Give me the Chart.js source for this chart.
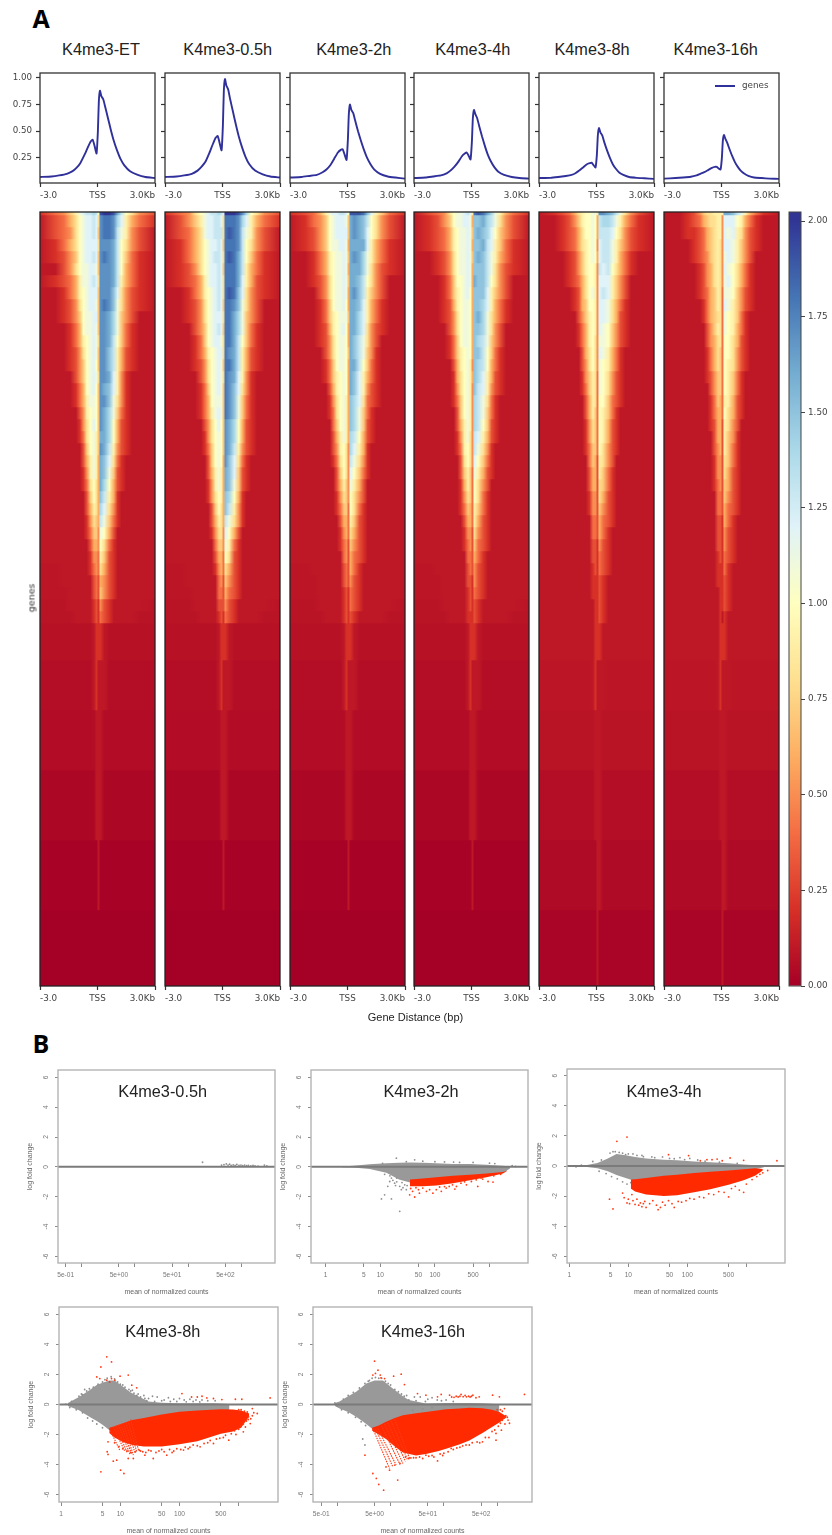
<!DOCTYPE html>
<html>
<head>
<meta charset="utf-8">
<title>K4me3 heatmaps and MA plots</title>
<script src="https://cdn.jsdelivr.net/npm/chart.js@4"></script>
<style>
    html, body { margin: 0; background: #fff; }
    #page { position: relative; width: 832px; height: 1535px; overflow: hidden; }
    canvas { position: absolute; filter: blur(0.5px); }
    .txt { position: absolute; font-family: "Liberation Sans", sans-serif; color: #222; white-space: nowrap; transform: translate(-50%, -50%); }
    .letter { font-family: "Open Sans", sans-serif; font-weight: 700; font-size: 25px; color: #000; }
</style>
</head>
<body>
<div id="page"></div>
<script>
// ---- top panels: signal profile around the TSS ----
const panelNames = ['K4me3-ET', 'K4me3-0.5h', 'K4me3-2h', 'K4me3-4h', 'K4me3-8h', 'K4me3-16h'];
const profileX = [-3, -2.4, -2, -1.6, -1.3, -1.1, -0.9, -0.7, -0.5, -0.35, -0.25, -0.15, -0.05, 0.02, 0.07, 0.13, 0.2, 0.3, 0.4, 0.55, 0.7, 0.85, 1, 1.2, 1.4, 1.7, 2.1, 2.5, 3];
const profileET = [.07, .075, .085, .1, .125, .155, .2, .27, .35, .405, .42, .36, .29, .5, .78, .88, .83, .8, .73, .62, .51, .41, .33, .24, .18, .125, .09, .07, .06];
const profile05 = [.07, .075, .085, .1, .13, .165, .21, .29, .38, .44, .455, .39, .32, .55, .88, .99, .93, .89, .8, .68, .56, .45, .36, .26, .19, .13, .095, .075, .065];
const profile2 = [.065, .07, .08, .09, .115, .14, .18, .24, .3, .325, .33, .28, .23, .42, .66, .75, .7, .67, .6, .5, .41, .33, .26, .19, .14, .1, .075, .065, .055];
const profile4 = [.06, .065, .075, .085, .105, .13, .165, .21, .265, .29, .3, .27, .235, .4, .62, .7, .66, .62, .55, .45, .36, .28, .22, .16, .12, .09, .07, .06, .055];
const profile8 = [.06, .062, .07, .08, .09, .105, .13, .16, .19, .2, .205, .18, .16, .28, .46, .53, .49, .46, .4, .32, .25, .19, .15, .11, .09, .07, .062, .058, .052];
const profile16 = [.055, .06, .065, .072, .085, .1, .115, .135, .155, .165, .165, .15, .14, .25, .41, .465, .43, .39, .34, .27, .21, .165, .13, .1, .08, .065, .06, .055, .052];
const profileYTicks = [0.25, 0.5, 0.75, 1];
const distTicks = [-3, 0, 3];
const distLabels = ['-3.0', 'TSS', '3.0Kb'];

// ---- heatmaps: one string per row of genes, one character per position in heatPos ----
// each character is the signal in tenths (1-9, a=1.0 ... k=2.0), 0 means the row's background level in the floor array
const heatPos = [-3, -2.2, -1.75, -1.42, -1.12, -0.92, -0.74, -0.56, -0.37, -0.18, -0.05, 0.05, 0.15, 0.35, 0.62, 0.85, 1.05, 1.25, 1.5, 1.8, 2.2, 3];
const heatRowEdges = [0, 3, 15, 27, 39, 51, 63, 75, 87, 99, 111, 123, 135, 147, 159, 171, 183, 195, 207, 219, 231, 243, 255, 267, 279, 291, 303, 315, 327, 339, 351, 363, 375, 387, 399, 411, 448, 498, 558, 628, 698, 774];
const heatFloorEarly = [.1, .1, .1, .1, .1, .1, .1, .1, .1, .1, .1, .1, .1, .1, .1, .1, .1, .1, .1, .1, .1, .1, .1, .1, .1, .1, .1, .1, .1, .1, .09, .09, .09, .08, .08, .07, .06, .05, .03, .01, 0];
const heatFloorLate = [.1, .1, .1, .1, .1, .1, .1, .1, .1, .1, .1, .1, .1, .1, .1, .1, .1, .1, .1, .1, .1, .1, .1, .1, .1, .1, .1, .1, .1, .1, .1, .1, .1, .1, .1, .1, .09, .08, .06, .04, .02];
const heatET = [
    '24579bcddedajkkjgda853', '13468abccdc8hiihec9642', '13458abccdc7hiihdb9531', '12468abcccc8hhhgda8531', '12357abccdc7hihgda7421', '11358abbccb7hhhgda6421',
    '123469bbcdc8hhhgd96421', '112469abccc7hhhfc85321', '112358abccb7hihfb85321', '112357abbcc7hhgeb75311', '111246abbcb7hhgeb74211', '1112469abcb8hhgda74211',
    '1112358abcb7hhfd963211', '1112357abca7hhfd963211', '1111357abcb8hhgc952111', '1111246abca7hgfc952111', '11112469bba7hhfb852111', '11111359aba7hgeb742111',
    '11111258aca7hgea632111', '11111248ab97ggea632111', '11111137ab97hgd9532111', '111111369b96gfc8421111', '111111259b96gfb7321111', '111111248a86gea6321111',
    '111111137a86fd96211111', '111111136986ec85211111', '111111125876db74211111', '111111124775ba63111111', '011111113665a842111111', '0111111125549732111111',
    '0011111124548632111111', '0011111113436532111111', '0001111113437532111111', '0001111112325321111110', '0000111112324321111100',
    '0000000001222100000000', '0000000001211100000000', '0000000000111000000000', '0000000000111000000000', '0000000000010000000000', '0000000000000000000000'
];
const heat05 = [
    '2458abcddedckkkjhea853', '13579bccddc8iiihec9642', '13468bccddd8ijihdb9531', '12468abccdc7iiihda8531', '12468abcddc8ijigda7421', '12358abccdc7iiigd96421',
    '123469bccdc8iiigc96321', '112469abcdc8ijifc85321', '112358abcdc7iihfb85311', '112358abccc8iigeb75311', '111357abcdc7iigeb74211', '111247abccb8iigda74211',
    '1112469abcc8ihgd963211', '1112358abcb7iigd963211', '1111358abcb8ihgc952111', '1111247abcb7ihfc852111', '1111246abbb7ihfb742111', '11112469bcb7ihfb742111',
    '11111358aca7hgea632111', '11111258aba7hgea632111', '11111247aba7hgd9532111', '11111137aba6hfc8421111', '111111369b96gfc7321111', '111111259b96gfb7321111',
    '111111258a96fea6211111', '111111137a86fd95211111', '111111136986db85211111', '111111125885ca63111111', '011111114775b942111111', '011111113664a832111111',
    '0011111125648632111111', '0011111114537532111111', '0001111114436432111111', '0001111113335321111110', '0000111112324321111100',
    '0000000001222100000000', '0000000001211100000000', '0000000000111000000000', '0000000000111000000000', '0000000000010000000000', '0000000000000000000000'
];
const heat2 = [
    '23469bccddcajjjifc9742', '12457abcccb7ghgfda8531', '12357abcccc7ghgfca8531', '12357abbccb6ggggc96421', '112469abbcb7ghgeb96421', '112469abbcb6gggeb85321',
    '112358abbcb7ggfda85311', '111358abbcb6ghfd975311', '111247abbca6ggfc964211', '1112479abbb7ggec964211', '1112369abca6ggec853211', '1112358abba6gfdb853111',
    '1111358abba7gfdb752111', '1111247abba6ggda742111', '11112479aba6gfc9642111', '11111369aba6gfc9532111', '11111258ab96fec8432111', '11111248ab96feb7421111',
    '11111147ab96feb7321111', '111111369b96eda6321111', '111111359a85ec96211111', '111111248a85db85211111', '111111137a85ca74211111', '111111136975b963111111',
    '111111125875a853111111', '111111124774a842111111', '1111111136649732111111', '0111111125648632111111', '0111111124537532111111', '0011111114536432111111',
    '0011111113436421111111', '0001111113435321111111', '0001111112324321111111', '0001111112324321111110', '0000111112323211111100',
    '0000000001222100000000', '0000000001211100000000', '0000000000111000000000', '0000000000111000000000', '0000000000010000000000', '0000000000000000000000'
];
const heat4 = [
    '13458abbcdc9ijigeb9642', '12357abbccb6ffgedb8531', '123469abbcb7fgfeca7531', '123469abbcb6ffgdc97421', '112358abbcb7fgfdb96421', '112358abbcb6fffdb85321',
    '111247aabcb6gffda85311', '1112479abca6fffc975311', '1112369abba6ffec964211', '1112358abba6fgeb864211', '1111358abba6ffeb853111', '1111247abba6fedb753111',
    '11112479aba6ffda742111', '11111369ab95feda642111', '11111268ab96fec9632111', '11111258ab95fdc9532111', '11111247ab95edb8421111', '11111137ab95edb7421111',
    '111111369b95eda7321111', '111111259b85dc96321111', '111111249a85db85211111', '111111138a85ca74211111', '111111137974b963211111', '111111126974a853111111',
    '111111125874a842111111', '1111111247649742111111', '1111111136649632111111', '0111111125538532111111', '0111111124537432111111', '0011111114436421111111',
    '0011111113435321111111', '0001111113325321111111', '0001111112324321111111', '0001111112323211111110', '0000111112223211111100',
    '0000000001222100000000', '0000000001211100000000', '0000000000111000000000', '0000000000111000000000', '0000000000010000000000', '0000000000000000000000'
];
const heat8 = [
    '1234689aabb9hhgfdb8531', '1123579aaba6deedb96421', '1123468aaba6dddca85321', '11234689aba5cddb975321', '11123579aba6cddb964211', '11123579aa95dcda864211',
    '11123468aa95ccc9753111', '11112368ab95cdc9753111', '11112367aa95ccb8642111', '111113579a95ccb8632111', '111112469a95cba7532111', '111112469a85bba7532111',
    '111111368a85cb96421111', '111111358a85ba96421111', '111111257984ba85321111', '111111247984ba85321111', '111111136984aa74321111', '111111136974a974211111',
    '111111125874a963211111', '111111125874a963211111', '111111124774a853211111', '1111111147639853111111', '1111111136639742111111', '1111111136638742111111',
    '1111111125538632111111', '1111111125537532111111', '1111111114436432111111', '1111111114436421111111', '0111111113325321111111', '0111111113324321111111',
    '0111111112324321111111', '0011111112223211111111', '0011111112223211111111', '0001111111223211111111', '0001111111223211111110',
    '0000000001222100000000', '0000000001211100000000', '0000000000111000000000', '0000000000111000000000', '0000000000011000000000', '0000000000010000000000'
];
const heat16 = [
    '112357889999ggfdc96421', '112346788995ccca964211', '112234678995cbc9853211', '111234678985ccb9753211', '111234578985bcb9753111', '111123568985cba8642111',
    '111123568985bca8642111', '111123467984bba7532111', '111112467984cb97532111', '111112467884ba97421111', '111111357984ba96421111', '111111356884aa86321111',
    '111111246874aa85321111', '111111246874a985321111', '111111235774a974211111', '111111135774a974211111', '1111111247649963211111', '111111124664a863211111',
    '1111111236639853111111', '1111111136639752111111', '1111111135639742111111', '1111111125538742111111', '1111111125538632111111', '1111111124537632111111',
    '1111111114437532111111', '1111111114436432111111', '1111111113326421111111', '1111111113325321111111', '1111111113325321111111', '0111111112324321111111',
    '0111111112224211111111', '0011111112223211111111', '0011111111223211111111', '0001111111223211111111', '0001111111212111111110',
    '0000000001222100000000', '0000000001211100000000', '0000000000111000000000', '0000000000111000000000', '0000000000011000000000', '0000000000010000000000'
];
const heatmapRows = [heatET, heat05, heat2, heat4, heat8, heat16];
const heatFloors = [heatFloorEarly, heatFloorEarly, heatFloorEarly, heatFloorEarly, heatFloorLate, heatFloorLate];
const profiles = [profileET, profile05, profile2, profile4, profile8, profile16];

// colour bar
const cmapColors = ['#a50026', '#d73027', '#f46d43', '#fdae61', '#fee090', '#ffffbf', '#e0f3f8', '#abd9e9', '#74add1', '#4575b4', '#313695'];
const cbarTicks = [0, 0.25, 0.5, 0.75, 1, 1.25, 1.5, 1.75, 2];

// ---- MA plots ----
const foldTicks = [-6, -4, -2, 0, 2, 4, 6];
const countTicksSci = [0.5, 1, 5, 10, 50, 100, 500, 1000];
const countLabelsSci = ['5e-01', '', '5e+00', '', '5e+01', '', '5e+02', ''];
const countTicksPlain = [1, 5, 10, 50, 100, 500, 1000];
const countLabelsPlain = ['1', '5', '10', '50', '100', '500', ''];

const grey05 = [[186, .31], [423, .12], [470, .15], [520, .2], [561, .12], [600, .18], [640, .1], [700, .13], [760, .1], [820, .16], [900, .1], [980, .12], [1060, .09], [1150, .12], [1250, .08], [1350, .1], [1500, .07], [1650, .1], [1800, .06], [2050, .05], [2700, .12], [3000, .06]];

const grey2X = [2, 3.2, 6.4, 12.9, 22, 35, 60, 106, 214, 437, 880, 1760, 2400];
const grey2Top = [.02, .08, .18, .25, .27, .3, .27, .25, .2, .2, .15, .07, .02];
const grey2Bottom = [-.02, -.05, -.15, -.4, -.85, -1.05, -.9, -.8, -.7, -.62, -.55, -.42, -.1];
const red2X = [35, 60, 106, 214, 437, 880, 1760, 2100];
const red2Top = [-.85, -.78, -.69, -.6, -.53, -.45, -.35, -.25];
const red2Bottom = [-1.3, -1.3, -1.25, -1.1, -.9, -.7, -.45, -.28];
const grey2Pts = [[10.5, -2.15], [16, -2.15], [12, -1.87], [22.7, -2.98], [19.7, .58], [14.9, -.98], [18.3, -1.09], [13.7, -1.3], [24.3, -1.53], [28, -1.2], [20, -.75], [16, -.75], [22.7, -1.3], [30, -1.53], [42.6, .47], [11, .24], [100, .35], [283, .3], [1000, .25], [1250, .22], [60, .38], [150, .33], [220, .32], [500, .3], [30, .35], [2600, .08], [3000, .03], [17, -.9], [20, -1], [25, -1.05], [31, -1.25], [26, -1.4], [19, -1.25], [15, -.6], [12, -.5]];
const red2Pts = [[34.5, -1.87], [42.6, -2.02], [52, -1.76], [39, -1.64], [70, -1.64], [92, -1.76], [106, -1.53], [131, -1.64], [161, -1.42], [232, -1.49], [248, -1.31], [378, -1.2], [610, -1.31], [940, -.98], [1160, -1.02], [750, -.82], [50, -1.53], [60, -1.42], [80, -1.53], [122, -1.35], [183, -1.31], [300, -1.09], [466, -.98], [570, -.87], [45, -1.4], [36, -1.45], [150, -1.32], [210, -1.2], [350, -1], [700, -.75], [1200, -.6], [1600, -.5]];

const grey4X = [1.3, 2, 3, 4.5, 6.3, 9, 13, 20, 40, 67, 130, 245, 500, 900, 1400, 2000];
const grey4Top = [.03, .07, .2, .5, .8, .72, .6, .5, .42, .38, .3, .25, .18, .1, .05, .02];
const grey4Bottom = [-.03, -.06, -.15, -.35, -.6, -.8, -1, -.95, -.8, -.72, -.6, -.5, -.42, -.32, -.22, -.08];
const red4X = [11, 13, 20, 40, 67, 130, 245, 500, 900, 1400, 1900];
const red4Top = [-.9, -.88, -.8, -.65, -.58, -.47, -.38, -.3, -.22, -.15, -.2];
const red4Bottom = [-1.5, -1.7, -1.9, -2, -1.95, -1.75, -1.55, -1.25, -.95, -.65, -.3];
const grey4Pts = [[4.9, .86], [5.5, .95], [7, .9], [9, .75], [12, .8], [17, .7], [25, .6], [38, .6], [50, .5], [75, .55], [110, .5], [150, .4], [3.5, .4], [2.5, .3], [1.6, .05], [1.3, -.05], [3.2, -.35], [4.2, -.5], [5.2, -.7], [6.5, -.85], [8, -1.05], [9.5, -1.2], [11, -1.1], [6, .95], [8, .85], [10, .8], [14, .7], [18, .62], [28, .55], [60, .48], [90, .42], [200, .32], [350, .25], [700, .18]];
const red4Pts = [[5.5, -2.85], [4.8, -2.2], [9.5, 1.92], [6.4, 1.64], [8, -1.8], [8.5, -2.1], [9.5, -2.45], [10, -2.2], [10.5, -2.5], [11.5, -1.9], [12, -2.3], [13, -2.55], [14, -2.2], [15, -2.6], [16, -2.45], [17, -2.7], [18, -2.5], [19, -2.35], [20, -2.75], [23, -2.5], [26, -2.3], [30, -2.6], [32, -2.9], [35, -2.75], [38, -2.4], [42, -2.6], [48, -2.3], [55, -2.5], [60, -2.75], [70, -2.35], [80, -2.4], [95, -2.3], [110, -2.15], [130, -2.2], [160, -2.05], [190, -2.1], [230, -1.85], [280, -1.9], [340, -1.7], [420, -1.75], [500, -2.05], [560, -1.5], [650, -1.35], [760, -1.6], [900, -1.75], [1000, -1.2], [1250, -.9], [1500, -.7], [1700, -.55], [1900, -.45], [2300, -.3], [48, .75], [105, .69], [166, .35], [215, .42], [262, .42], [320, .46], [390, .35], [530, .53], [900, .38], [3300, .35]];

const grey8X = [1.3, 2, 3, 4, 5, 6.5, 8, 11, 15, 20, 30, 50, 100, 200, 400, 700];
const grey8Top = [.1, .5, .95, 1.3, 1.45, 1.6, 1.6, 1.2, .8, .55, .2, .12, .08, .08, .08, .03];
const grey8Bottom = [-.1, -.38, -.82, -1.1, -1.35, -1.7, -1.6, -1.4, -1.2, -1.1, -1, -.85, -.65, -.55, -.45, -.45];
const red8X = [6.5, 8, 11, 16, 25, 50, 100, 200, 500, 800, 1100, 1500];
const red8Top = [-1.55, -1.45, -1.25, -1.04, -.9, -.67, -.49, -.4, -.31, -.33, -.4, -.6];
const red8Bottom = [-1.9, -2.2, -2.5, -2.7, -2.8, -2.8, -2.65, -2.45, -1.95, -1.8, -1.55, -.8];
const grey8Pts = [[1.2, .02], [1.4, -.2], [2, .55], [2.2, .7], [2.5, 1], [3, 1.05], [30, .4], [35, .55], [42, .5], [55, .3], [65, .45], [80, .35], [100, .4], [120, .3], [150, .35], [190, .3], [240, .3], [300, .25], [400, .25], [25, .6], [20, .7], [15, .9], [1.5, .2], [1.8, -.35], [2.3, -.55], [2.8, -.9], [3.4, -1.1], [4, -1.3], [5, -1.55], [28, .25], [38, .2], [50, .25], [70, .2], [90, .2], [130, .18], [170, .2], [220, .17], [6, 1.75], [7, 1.85], [8, 1.7], [9, 1.5], [10, 1.35], [12, 1.15], [14, 1], [17, .75], [19, .6], [22, .5], [26, .4], [3.5, 1.15], [4.2, 1.35], [5, 1.5], [5.5, 1.65], [2.7, .9], [2.3, .65], [16, .95], [11, 1.3]];
const red8Pts = [[5.9, 3.18], [7.1, 2.84], [4.7, 2.5], [4, 1.84], [4.5, 1.73], [7.1, 1.73], [5.9, 1.62], [6.6, 1.5], [8.1, 1.62], [9.9, 1.89], [13.6, 1.96], [15.6, 1.29], [18.9, 1.11], [110, .73], [160, .5], [200, .5], [240, .55], [290, .44], [375, .4], [520, .33], [3400, .44], [880, .35], [1130, .35], [4.7, -4.49], [6, -3.15], [6.2, -3.33], [7.6, -3.78], [10.1, -4.38], [11.5, -4.6], [6.2, -2.49], [8.7, -3.71], [16.6, -3.6], [13.6, -3.6], [26, -3.38], [36, -3.6], [61, -3.38], [117, -3.04], [223, -2.82], [375, -2.6], [680, -2.38], [1200, -1.82], [1570, -1.27], [2060, -.6], [1470, -.82], [1700, -.27], [22, -3.1], [30, -3.05], [45, -3.1], [80, -3.1], [150, -2.85], [300, -2.55], [550, -2.2], [900, -2], [1300, -1.5], [8, -2.55], [9.5, -2.8], [11, -2.95], [13, -3.1], [15, -3.2], [18, -3.15], [21, -3.05], [24, -3.15], [27, -3.2], [33, -3.1], [40, -3.2], [50, -3], [55, -3.15], [68, -3], [75, -3.2], [90, -2.95], [105, -3], [125, -2.85], [140, -2.95], [170, -2.7], [200, -2.75], [260, -2.6], [330, -2.4], [420, -2.3], [480, -2.25], [600, -2.05], [750, -1.95], [850, -1.75], [1000, -1.65], [1100, -1.45], [1200, -1.3], [1350, -1.1], [1450, -1], [1600, -.95], [1700, -.75], [1800, -.55], [1400, -.5], [1250, -.45], [1100, -.35], [1000, -.35]];
const stripes8 = [[7.6, -1.49, 12, -3.15], [9.3, -1.35, 14.6, -3.33], [11.2, -1.25, 16.6, -3.38], [13.6, -1.1, 18.9, -3.15], [6.5, -1.6, 9.8, -3.05], [8.4, -1.4, 13, -3.2], [10.2, -1.3, 15.5, -3.3], [12.4, -1.2, 17.8, -3.25], [15, -1, 20.5, -3.1]];

const grey16X = [.9, 1.1, 1.6, 2.26, 3.5, 5, 7.2, 11, 17, 22, 46, 110, 300, 530, 1100];
const grey16Top = [.1, .2, .55, .85, 1.4, 1.6, 1.6, 1.07, .55, .3, .06, .1, .1, .08, .02];
const grey16Bottom = [-.1, -.27, -.5, -.82, -1.3, -1.75, -1.5, -1.05, -.85, -.8, -.65, -.45, -.35, -.4, -.6];
const red16X = [4.5, 6, 8.2, 12, 17, 30, 46, 80, 110, 200, 300, 530, 800, 1100, 1500];
const red16Top = [-1.55, -1.4, -1.15, -.9, -.72, -.58, -.5, -.38, -.31, -.26, -.22, -.25, -.35, -.5, -.8];
const red16Bottom = [-1.75, -2, -2.3, -2.8, -3.2, -3.4, -3.3, -3.1, -2.95, -2.65, -2.4, -1.9, -1.5, -1.2, -.85];
const grey16Pts = [[.9, .1], [1, -.1], [1.3, .35], [1.6, .6], [2, .8], [2.6, 1.1], [3.3, 1.4], [3.8, 1.55], [1.2, -.35], [1.6, -.55], [2.2, -.85], [2.8, -1.15], [3.4, -1.4], [20, .6], [28, .5], [36, .5], [50, .35], [60, .45], [75, .3], [90, .25], [110, .3], [150, .2], [22, .3], [30, .25], [45, .2], [3, -2.3], [3.3, -2.7], [26, -.4], [40, -.3], [60, -.2], [4, 1.6], [4.5, 1.75], [5.2, 1.8], [6, 1.75], [6.8, 1.75], [8, 1.55], [9, 1.4], [10, 1.3], [12, 1], [14, .85], [16, .7], [18, .55]];
const red16Pts = [[5, 2.89], [5.8, 2.29], [6.4, 1.96], [7.7, 1.73], [4.65, 1.96], [5.2, 2.07], [6.6, 1.78], [11.4, 1.89], [15.8, 2.02], [18.2, 1.33], [32, .73], [46, .62], [76, .51], [89, .67], [128, .62], [170, .55], [210, .67], [265, .51], [350, .62], [460, .51], [820, .62], [1100, .51], [3250, .67], [140, .5], [155, .48], [185, .5], [200, .55], [230, .52], [250, .6], [290, .55], [310, .5], [330, .55], [400, .45], [3.3, -3.38], [4.65, -4.6], [5.4, -4.93], [6, -5.33], [7.4, -5.71], [13.6, -5.04], [9.55, -4.38], [8.2, -4.16], [12, -4.04], [15, -3.93], [24, -3.56], [76, -3.76], [46, -3.38], [137, -2.93], [225, -2.76], [530, -2.49], [950, -2.38], [1200, -1.71], [1600, -1.04], [1370, -.27], [1100, -.6], [950, -1.93], [30, -3.55], [60, -3.4], [100, -3.25], [300, -2.7], [700, -2.2], [1400, -1.3], [19, -3.5], [22, -3.6], [27, -3.55], [35, -3.5], [40, -3.6], [52, -3.45], [65, -3.5], [85, -3.3], [95, -3.4], [120, -3.15], [150, -3], [175, -2.9], [200, -2.85], [260, -2.7], [340, -2.55], [420, -2.5], [470, -2.55], [600, -2.2], [800, -1.8], [900, -1.7], [1050, -1.45], [1150, -1.25], [1250, -1.05], [1350, -.9], [1450, -.75], [1550, -.85], [1250, -.45], [1150, -.35], [1000, -.35], [1700, -1.25]];
const stripes16 = [[4.65, -1.6, 9.55, -4.27], [5.75, -1.6, 12.7, -4.04], [7.7, -1.3, 17, -3.93], [10.2, -1.1, 21, -3.71], [5.2, -1.6, 11, -4.15], [6.7, -1.4, 15, -4], [8.8, -1.2, 19, -3.8], [12, -1, 23, -3.65]];

// ---- helpers ----
Chart.defaults.animation = false;
Chart.defaults.font.family = '"DejaVu Sans", sans-serif';
Chart.defaults.plugins.legend.display = false;
Chart.defaults.plugins.tooltip.enabled = false;

const page = document.getElementById('page');

function addCanvas(left, top, width, height) {
    const c = document.createElement('canvas');
    c.width = width;
    c.height = height;
    c.style.left = left + 'px';
    c.style.top = top + 'px';
    c.style.width = width + 'px';
    c.style.height = height + 'px';
    page.appendChild(c);
    return c;
}

function addText(text, x, y, size, extra) {
    const d = document.createElement('div');
    d.className = 'txt' + (extra && extra.cls ? ' ' + extra.cls : '');
    d.textContent = text;
    d.style.left = x + 'px';
    d.style.top = y + 'px';
    if (size) d.style.fontSize = size + 'px';
    if (extra && extra.css) d.style.cssText += extra.css;
    page.appendChild(d);
}

function toPoints(xs, ys) {
    return xs.map((x, i) => ({ x: x, y: ys[i] }));
}
function pairPoints(list) {
    return list.map(p => ({ x: p[0], y: p[1] }));
}

function hexToRgb(h) {
    return [parseInt(h.slice(1, 3), 16), parseInt(h.slice(3, 5), 16), parseInt(h.slice(5, 7), 16)];
}
function valueColor(v) {
    const t = Math.max(0, Math.min(1, v / 2)) * (cmapColors.length - 1);
    const i = Math.min(Math.floor(t), cmapColors.length - 2);
    const a = hexToRgb(cmapColors[i]);
    const b = hexToRgb(cmapColors[i + 1]);
    const f = t - i;
    return `rgb(${a.map((c, k) => Math.round(c + (b[k] - c) * f)).join(',')})`;
}

// draws the box around a plot
const framePlugin = {
    id: 'frame',
    afterDatasetsDraw(chart, args, opts) {
        const a = chart.chartArea;
        const ctx = chart.ctx;
        ctx.save();
        ctx.strokeStyle = opts.color;
        ctx.lineWidth = opts.width;
        ctx.strokeRect(a.left, a.top, a.right - a.left, a.bottom - a.top);
        ctx.restore();
    }
};

// small legend inside the last profile panel
const genesLegend = {
    id: 'genesLegend',
    afterDatasetsDraw(chart) {
        const a = chart.chartArea;
        const ctx = chart.ctx;
        ctx.save();
        ctx.strokeStyle = '#30309a';
        ctx.lineWidth = 2;
        ctx.beginPath();
        ctx.moveTo(a.left + 51, a.top + 13);
        ctx.lineTo(a.left + 71, a.top + 13);
        ctx.stroke();
        ctx.fillStyle = '#444';
        ctx.font = '8.8px "DejaVu Sans"';
        ctx.textBaseline = 'middle';
        ctx.fillText('genes', a.left + 78, a.top + 13);
        ctx.restore();
    }
};

function fixedTicks(values) {
    return axis => { axis.ticks = values.map(v => ({ value: v })); };
}

function distanceAxis(padB) {
    return {
        type: 'linear', min: -3, max: 3, offset: false,
        afterBuildTicks: fixedTicks(distTicks),
        afterFit: s => { s.height = padB; },
        border: { display: false },
        grid: { offset: false, drawOnChartArea: false, tickLength: 4, tickColor: '#333', tickWidth: 1.2 },
        ticks: {
            align: 'inner', padding: 3, maxRotation: 0, autoSkip: false, color: '#444',
            font: { size: 8.8 },
            callback: v => distLabels[distTicks.indexOf(v)]
        }
    };
}

// ---- profile panels ----
const panelLeft = [40, 165, 290, 414, 539, 664];

function drawProfile(n) {
    const padL = n === 0 ? 40 : 8;
    const padT = 12;
    const canvas = addCanvas(panelLeft[n] - padL, 73 - padT, padL + 115 + 16, padT + 110 + 30);
    new Chart(canvas, {
        type: 'line',
        data: {
            datasets: [{
                data: toPoints(profileX, profiles[n]),
                borderColor: '#30309a', borderWidth: 1.9, pointRadius: 0, tension: 0.15, fill: false
            }]
        },
        options: {
            responsive: false,
            layout: { autoPadding: false, padding: { top: padT, right: 16 } },
            plugins: { frame: { color: '#333', width: 1.3 } },
            scales: {
                x: distanceAxis(30),
                y: {
                    min: 0.0137, max: 1.0467,
                    afterBuildTicks: fixedTicks(profileYTicks),
                    afterFit: s => { s.width = padL; },
                    border: { display: false },
                    grid: { drawOnChartArea: false, tickLength: 4, tickColor: '#333', tickWidth: 1.2 },
                    ticks: {
                        padding: 4, color: '#444', font: { size: 8.7 },
                        callback: v => n === 0 ? v.toFixed(2) : ''
                    }
                }
            }
        },
        plugins: n === 5 ? [framePlugin, genesLegend] : [framePlugin]
    });
}

// ---- heatmap panels: each row is a floating bar filled along the distance axis ----
function rowGradient(chart, row, floor) {
    const x = chart.scales.x;
    if (!x || !chart.chartArea) return '#a50026';
    const g = chart.ctx.createLinearGradient(x.getPixelForValue(-3), 0, x.getPixelForValue(3), 0);
    heatPos.forEach((p, i) => {
        const ch = row.charAt(i);
        const v = ch === '0' ? floor : parseInt(ch, 36) / 10;
        g.addColorStop((p + 3) / 6, valueColor(v));
    });
    return g;
}

function drawHeatmap(n) {
    const canvas = addCanvas(panelLeft[n] - 8, 206, 8 + 115 + 16, 6 + 774 + 30);
    new Chart(canvas, {
        type: 'bar',
        data: {
            datasets: heatmapRows[n].map((row, i) => ({
                data: [{ x: 0, y: [heatRowEdges[i], heatRowEdges[i + 1]] }],
                barThickness: 115,
                grouped: false,
                borderWidth: 0,
                backgroundColor: c => rowGradient(c.chart, row, heatFloors[n][i])
            }))
        },
        options: {
            responsive: false,
            layout: { autoPadding: false, padding: { left: 8, top: 6, right: 16 } },
            plugins: { frame: { color: '#222', width: 1.3 } },
            scales: {
                x: distanceAxis(30),
                y: { display: false, reverse: true, min: 0, max: 774 }
            }
        },
        plugins: [framePlugin]
    });
}

// ---- colour bar ----
function drawColorBar() {
    const canvas = addCanvas(784, 200, 48, 12 + 774 + 12);
    new Chart(canvas, {
        type: 'bar',
        data: {
            datasets: [{
                data: [{ x: 0, y: [0, 2.024] }],
                barThickness: 12,
                borderWidth: 0,
                backgroundColor: c => {
                    const y = c.chart.scales.y;
                    if (!y || !c.chart.chartArea) return '#a50026';
                    const g = c.chart.ctx.createLinearGradient(0, y.getPixelForValue(0), 0, y.getPixelForValue(2));
                    cmapColors.forEach((col, i) => g.addColorStop(i / (cmapColors.length - 1), col));
                    return g;
                }
            }]
        },
        options: {
            responsive: false,
            layout: { autoPadding: false, padding: { left: 5, top: 12, bottom: 12 } },
            plugins: { frame: { color: '#444', width: 1 } },
            scales: {
                x: { type: 'linear', display: false, min: -1, max: 1, offset: false, grid: { offset: false } },
                y: {
                    position: 'right', min: 0, max: 2.024,
                    afterBuildTicks: fixedTicks(cbarTicks),
                    afterFit: s => { s.width = 31; },
                    border: { display: false },
                    grid: { drawOnChartArea: false, tickLength: 4, tickColor: '#444' },
                    ticks: { padding: 3, color: '#444', font: { size: 8.8 }, callback: v => v.toFixed(2) }
                }
            }
        },
        plugins: [framePlugin]
    });
}

// ---- MA plots ----
function drawMA(cfg) {
    const padL = 34, padT = 14, padR = 14, padB = 34;
    const canvas = addCanvas(cfg.left - padL, cfg.top - padT, padL + cfg.width + padR, padT + cfg.height + padB);
    const datasets = [];
    const band = (xs, top, bottom, color, order) => {
        datasets.push({ type: 'line', data: toPoints(xs, top), borderWidth: 0, pointRadius: 0, backgroundColor: color, fill: '+1', order: order });
        datasets.push({ type: 'line', data: toPoints(xs, bottom), borderWidth: 0, pointRadius: 0, fill: false, order: order });
    };
    const dots = (list, color, order) => {
        datasets.push({ type: 'line', data: pairPoints(list), showLine: false, pointRadius: 0.9, pointBorderWidth: 0, pointBackgroundColor: color, order: order });
    };
    datasets.push({
        type: 'line',
        data: [{ x: cfg.xMin, y: 0 }, { x: cfg.xMax, y: 0 }],
        borderColor: '#7b7b7b', borderWidth: 2, pointRadius: 0, order: 0
    });
    if (cfg.greyX) band(cfg.greyX, cfg.greyTop, cfg.greyBottom, '#999999', 5);
    if (cfg.redX) band(cfg.redX, cfg.redTop, cfg.redBottom, '#ff2a00', 3);
    if (cfg.stripes) {
        cfg.stripes.forEach(s => {
            datasets.push({
                type: 'line',
                data: [{ x: s[0], y: s[1] }, { x: s[2], y: s[3] }],
                borderColor: '#ff3a14', borderWidth: 1.1, borderDash: [1.5, 1], pointRadius: 0, order: 2
            });
        });
    }
    if (cfg.greyPts) dots(cfg.greyPts, '#8f8f8f', 4);
    if (cfg.redPts) dots(cfg.redPts, '#ff3a14', 1);

    new Chart(canvas, {
        type: 'line',
        data: { datasets: datasets },
        options: {
            responsive: false,
            layout: { autoPadding: false, padding: { top: padT, right: padR } },
            plugins: { frame: { color: '#b4b4b4', width: 1.4 } },
            scales: {
                x: {
                    type: 'logarithmic', min: cfg.xMin, max: cfg.xMax,
                    afterBuildTicks: fixedTicks(cfg.ticks),
                    afterFit: s => { s.height = padB; },
                    border: { display: false },
                    grid: { drawOnChartArea: false, tickLength: 4, tickColor: '#8a8a8a' },
                    title: { display: true, text: 'mean of normalized counts', color: '#666', padding: { top: 0, bottom: 1 }, font: { family: '"Liberation Sans"', size: 7 } },
                    ticks: {
                        padding: 4, maxRotation: 0, autoSkip: false, color: '#777',
                        font: { family: '"Liberation Sans"', size: 6.6 },
                        callback: v => cfg.labels[cfg.ticks.indexOf(v)]
                    }
                },
                y: {
                    min: cfg.yMin, max: cfg.yMax,
                    afterBuildTicks: fixedTicks(foldTicks),
                    afterFit: s => { s.width = padL; },
                    border: { display: false },
                    grid: { drawOnChartArea: false, tickLength: 3, tickColor: '#8a8a8a' },
                    title: { display: true, text: 'log fold change', color: '#666', padding: { top: 2, bottom: 0 }, font: { family: '"Liberation Sans"', size: 7 } },
                    ticks: {
                        padding: 6, minRotation: 90, maxRotation: 90, crossAlign: 'center', color: '#777',
                        font: { family: '"Liberation Sans"', size: 6.6 },
                        callback: v => String(v)
                    }
                }
            }
        },
        plugins: [framePlugin]
    });
}

// ---- build the page ----
window.onload = function() {
    addText('A', 41, 18, 0, { cls: 'letter' });
    addText('B', 41, 1043, 0, { cls: 'letter' });

    const titleX = [101, 227.7, 353.7, 472.7, 592, 715.7];
    panelNames.forEach((name, n) => {
        addText(name, titleX[n], 49, 16.3);
        drawProfile(n);
        drawHeatmap(n);
    });
    drawColorBar();
    addText('genes', 31, 598, 9.5, { css: 'font-family:"DejaVu Sans";color:#333;transform:translate(-50%,-50%) rotate(-90deg);' });
    addText('Gene Distance (bp)', 415.5, 1016.5, 11);

    drawMA({ left: 58, top: 1070, width: 217, height: 193, xMin: 0.359, xMax: 4270, yMin: -6.44, yMax: 6.49, ticks: countTicksSci, labels: countLabelsSci, greyPts: grey05 });
    drawMA({ left: 311, top: 1070, width: 217, height: 193, xMin: 0.538, xMax: 5070, yMin: -6.44, yMax: 6.49, ticks: countTicksPlain, labels: countLabelsPlain, greyX: grey2X, greyTop: grey2Top, greyBottom: grey2Bottom, redX: red2X, redTop: red2Top, redBottom: red2Bottom, greyPts: grey2Pts, redPts: red2Pts });
    drawMA({ left: 567, top: 1069, width: 218, height: 194, xMin: 0.914, xMax: 4519, yMin: -6.44, yMax: 6.44, ticks: countTicksPlain, labels: countLabelsPlain, greyX: grey4X, greyTop: grey4Top, greyBottom: grey4Bottom, redX: red4X, redTop: red4Top, redBottom: red4Bottom, greyPts: grey4Pts, redPts: red4Pts });
    drawMA({ left: 59, top: 1307, width: 219, height: 195, xMin: 0.92, xMax: 4620, yMin: -6.5, yMax: 6.5, ticks: countTicksPlain, labels: countLabelsPlain, greyX: grey8X, greyTop: grey8Top, greyBottom: grey8Bottom, redX: red8X, redTop: red8Top, redBottom: red8Bottom, stripes: stripes8, greyPts: grey8Pts, redPts: red8Pts });
    drawMA({ left: 313, top: 1307, width: 219, height: 195, xMin: 0.35, xMax: 4500, yMin: -6.5, yMax: 6.5, ticks: countTicksSci, labels: countLabelsSci, greyX: grey16X, greyTop: grey16Top, greyBottom: grey16Bottom, redX: red16X, redTop: red16Top, redBottom: red16Bottom, stripes: stripes16, greyPts: grey16Pts, redPts: red16Pts });

    addText('K4me3-0.5h', 162.7, 1090.7, 16.3);
    addText('K4me3-2h', 421, 1090.7, 16.3);
    addText('K4me3-4h', 664, 1090.7, 16.3);
    addText('K4me3-8h', 162.7, 1331, 16.3);
    addText('K4me3-16h', 423, 1331, 16.3);
};
</script>
</body>
</html>
